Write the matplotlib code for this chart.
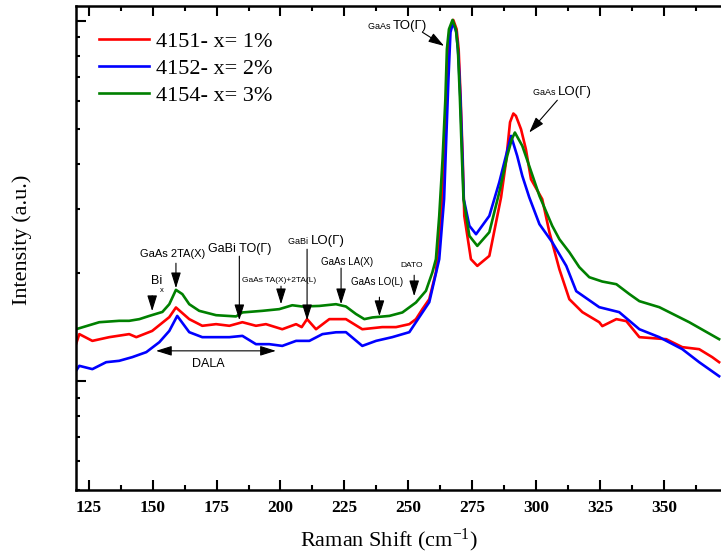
import matplotlib
matplotlib.use("Agg")
import matplotlib.pyplot as plt
from matplotlib.ticker import LogLocator, NullFormatter, FixedLocator

plt.rcParams['mathtext.fontset'] = 'custom'
plt.rcParams['mathtext.rm'] = 'Liberation Serif'
plt.rcParams['mathtext.it'] = 'Liberation Serif:italic'

# Raman spectra of the three GaAsBi samples (shift in cm^-1, intensity in counts)
shift_4151 = [120.0, 121.3, 126.4, 133.0, 140.8, 143.6, 149.8, 156.5, 159.1, 164.3,
              169.4, 174.8, 180.0, 185.1, 190.4, 194.3, 200.7, 206.1, 208.3, 210.4,
              213.9, 219.1, 225.6, 232.0, 239.8, 245.2, 250.4, 253.0, 255.5, 258.2,
              260.8, 262.8, 264.0, 264.9, 265.5, 266.3, 267.6, 268.9, 269.7, 270.5,
              271.3, 271.9, 274.5, 277.0, 281.7, 286.3, 288.2, 289.8, 291.1, 292.1,
              294.1, 296.0, 298.0, 302.4, 305.2, 309.1, 313.0, 318.1, 324.7, 325.9,
              331.4, 335.3, 340.4, 350.9, 357.2, 363.8, 368.9, 371.6]
int_4151 = [1269, 1353, 1296, 1327, 1353, 1327, 1381, 1508, 1604, 1489,
            1427, 1442, 1427, 1460, 1427, 1442, 1396, 1442, 1415, 1489,
            1396, 1489, 1489, 1396, 1415, 1415, 1442, 1489, 1587, 1691,
            2010, 2879, 3962, 6066, 8348, 9484, 10064, 9484, 8348, 6066,
            4136, 2879, 2184, 2092, 2230, 3244, 4057, 5236, 5536, 5453,
            5007, 4408, 3639, 3203, 2594, 2048, 1691, 1557, 1460, 1424,
            1489, 1470, 1327, 1310, 1245, 1229, 1168, 1131]

shift_4152 = [120.0, 121.3, 126.4, 131.8, 136.9, 142.0, 147.5, 152.6, 156.5, 159.6,
              164.3, 169.4, 174.8, 180.0, 185.1, 190.4, 195.6, 200.7, 206.1, 211.3,
              216.4, 221.7, 225.6, 232.0, 237.4, 243.7, 250.4, 254.3, 258.2, 262.1,
              264.0, 264.7, 265.7, 266.5, 267.5, 268.8, 269.6, 270.4, 271.2, 271.7,
              273.9, 276.5, 281.7, 285.6, 288.2, 290.2, 292.6, 294.6, 297.3, 301.3,
              306.3, 311.8, 315.7, 324.7, 332.5, 340.4, 348.2, 357.2, 363.8, 371.6]
int_4152 = [1070, 1105, 1082, 1131, 1141, 1168, 1206, 1285, 1381, 1520,
            1370, 1327, 1327, 1327, 1338, 1269, 1269, 1255, 1296, 1296,
            1353, 1369, 1370, 1255, 1296, 1327, 1370, 1508, 1659, 2184,
            3203, 4408, 6889, 9300, 9900, 9300, 8000, 6066, 4136, 3203,
            2702, 2561, 2879, 3570, 4223, 4798, 4223, 3717, 3244, 2731,
            2434, 2092, 1780, 1607, 1557, 1396, 1327, 1229, 1131, 1034]

shift_4154 = [120.0, 129.1, 136.9, 140.8, 144.8, 148.7, 153.8, 156.5, 159.1, 161.6,
              164.3, 168.2, 174.8, 182.6, 185.1, 192.9, 199.5, 204.6, 208.5, 215.2,
              221.7, 225.6, 229.5, 232.8, 235.9, 242.6, 247.7, 253.0, 256.9, 259.4,
              260.8, 262.1, 263.4, 264.5, 265.1, 265.9, 267.3, 268.6, 269.4, 270.2,
              271.0, 271.6, 273.9, 277.0, 281.7, 285.6, 288.7, 290.5, 291.7, 294.6,
              297.3, 301.3, 306.3, 309.1, 313.0, 316.9, 320.8, 325.9, 331.4, 336.5,
              340.4, 348.2, 359.9, 371.6]
int_4154 = [1396, 1460, 1473, 1473, 1489, 1520, 1559, 1638, 1795, 1747,
            1638, 1570, 1527, 1515, 1554, 1570, 1587, 1627, 1614, 1620,
            1638, 1614, 1539, 1489, 1505, 1520, 1554, 1656, 1784, 2006,
            2184, 2879, 4136, 6066, 8348, 9484, 10064, 9484, 8348, 6066,
            4136, 3203, 2534, 2377, 2594, 3350, 4223, 4699, 4903, 4502,
            3962, 3271, 2702, 2481, 2283, 2075, 1946, 1893, 1861, 1747,
            1670, 1607, 1460, 1310]

labels = ["4151- x= 1%", "4152- x= 2%", "4154- x= 3%"]
colors = ["#ff0000", "#0000ff", "#008000"]
major_x = [125, 150, 175, 200, 225, 250, 275, 300, 325, 350]

W, H = 721, 556
fig = plt.figure(figsize=(W / 100, H / 100), dpi=100)
ax = fig.add_axes([76 / W, (H - 490) / H, 664.6 / W, 484 / H])

for sx, sy, lab, c in zip([shift_4151, shift_4152, shift_4154],
                          [int_4151, int_4152, int_4154], labels, colors):
    ax.plot(sx, sy, color=c, lw=1.9, label=lab, solid_joinstyle='round')

ax.set_yscale('log')
ax.set_xlim(120, 380)
ax.set_ylim(500, 11000)

ax.xaxis.set_major_locator(FixedLocator(major_x))
ax.xaxis.set_minor_locator(FixedLocator([m + 12.5 for m in major_x]))
ax.yaxis.set_major_locator(LogLocator(base=10))
ax.yaxis.set_minor_locator(LogLocator(base=10, subs=range(2, 10)))
ax.yaxis.set_major_formatter(NullFormatter())
ax.yaxis.set_minor_formatter(NullFormatter())

ax.tick_params(axis='x', which='both', direction='in', top=True, bottom=True, width=1.5)
ax.tick_params(axis='x', which='major', length=7, pad=7)
ax.tick_params(axis='x', which='minor', length=3.5)
ax.tick_params(axis='y', which='both', direction='in', left=True, right=False, width=1.5)
ax.tick_params(axis='y', which='major', length=7)
ax.tick_params(axis='y', which='minor', length=3)
for lbl in ax.get_xticklabels():
    lbl.set_fontfamily('Liberation Serif')
    lbl.set_fontweight('bold')
    lbl.set_fontsize(12.5)
for s in ['left', 'top', 'bottom']:
    ax.spines[s].set_linewidth(1.8)
ax.spines['right'].set_visible(False)

fig.text(389 / W, 1 - 540 / H, r"Raman Shift (cm$^{\mathregular{-1}}$)",
         family='Liberation Serif', fontsize=16, ha='center', va='center')
fig.text(22 / W, 1 - 240 / H, "Intensity (a.u.)", family='Liberation Serif',
         fontsize=16, rotation=90, ha='center', va='center')

ax.legend(loc='upper left', bbox_to_anchor=(0.035, 0.948), frameon=False,
          prop={'family': 'Liberation Serif', 'size': 16},
          handlelength=2.25, handletextpad=0.3, labelspacing=0.3,
          borderpad=0, borderaxespad=0)

sans = 'Liberation Sans'
arrow = dict(arrowstyle="-|>,head_length=0.8,head_width=0.25", color='black',
             lw=0.8, shrinkA=0, shrinkB=0, mutation_scale=12)


def mark(xy_from, xy_to):
    ax.annotate("", xy=xy_to, xytext=xy_from, arrowprops=arrow)


def split_label(x, y, small, big, s_small=6.5, s_big=9.5):
    ax.text(x, y, small + " ", family=sans, fontsize=s_small, ha='right', va='center')
    ax.text(x, y, big, family=sans, fontsize=s_big, ha='left', va='center')


# GaAs first-order phonons
split_label(244.1, 9667, "GaAs", "TO(Γ)")
mark((255.5, 9305), (264.0, 8524))
split_label(308.7, 6343, "GaAs", "LO(Γ)")
mark((308.3, 6026), (297.3, 4903))

# Bi-related and second-order features
ax.text(151.5, 1898, "Bi", family=sans, fontsize=9, ha='center', va='center')
ax.text(153.4, 1790, "x", family=sans, fontsize=5.5, ha='center', va='center')
mark((149.8, 1728), (149.8, 1567))

ax.text(157.7, 2254, "GaAs 2TA(X)", family=sans, fontsize=8, ha='center', va='center')
mark((159.1, 2128), (159.1, 1814))

ax.text(183.9, 2327, "GaBi TO(Γ)", family=sans, fontsize=9, ha='center', va='center')
mark((183.9, 2226), (183.9, 1479))

ax.text(199.5, 1910, "GaAs TA(X)+2TA(L)", family=sans, fontsize=6, ha='center', va='center')
mark((200.2, 1838), (200.2, 1638))

split_label(211.7, 2450, "GaBi", "LO(Γ)")
mark((210.4, 2327), (210.4, 1479))

ax.text(226.1, 2142, "GaAs LA(X)", family=sans, fontsize=7, ha='center', va='center')
mark((223.7, 2062), (223.7, 1638))

ax.text(237.9, 1886, "GaAs LO(L)", family=sans, fontsize=7, ha='center', va='center')
mark((238.7, 1713), (238.7, 1518))

ax.text(251.2, 2101, "DATO", family=sans, fontsize=6, ha='center', va='center')
mark((252.3, 1971), (252.3, 1724))

# disorder-activated LA band
ax.annotate("", xy=(151.3, 1216), xytext=(198.2, 1216),
            arrowprops=dict(arrowstyle="<|-|>,head_length=0.8,head_width=0.25",
                            color='black', lw=0.8, shrinkA=0, shrinkB=0,
                            mutation_scale=12))
ax.text(171.8, 1117, "DALA", family=sans, fontsize=9, ha='center', va='center')

fig.savefig("out.png", dpi=100)
